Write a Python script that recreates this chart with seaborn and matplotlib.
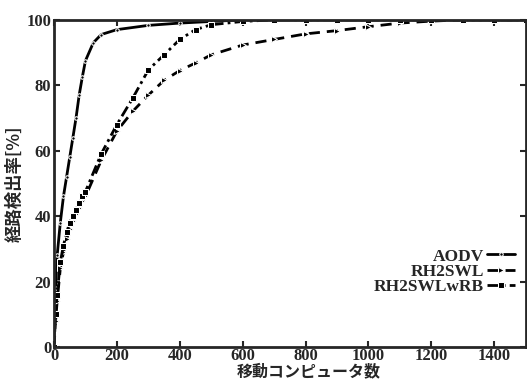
import matplotlib
matplotlib.use('Agg')
import matplotlib.pyplot as plt
import seaborn as sns
import pandas as pd

# データ
x_aodv = [0, 5, 10, 20, 30, 40, 50, 60, 70, 80, 90, 100, 125, 150, 200, 300, 400, 500,
          600, 700, 800, 900, 1000, 1100, 1200, 1300, 1400, 1500]
y_aodv = [0, 18, 28, 38, 46, 52, 58, 64, 70, 77, 82.5, 87.5, 93, 95.5, 97, 98.3, 99, 99.5,
          100, 100, 100, 100, 100, 100, 100, 100, 100, 100]

x_rh2 = [0, 5, 10, 20, 30, 40, 50, 60, 70, 80, 90, 100, 150, 200, 250, 300, 350, 400,
         450, 500, 600, 700, 800, 900, 1000, 1100, 1200, 1300, 1400, 1500]
y_rh2swl = [0, 8, 14, 24, 29, 33, 36, 38.5, 40.5, 42.5, 44.5, 46, 57, 66, 72, 77, 81.5,
            84.5, 86.8, 89.3, 92.3, 94, 95.7, 96.7, 97.9, 99, 99.6, 100, 100, 100]
y_rh2wrb = [0, 10, 16, 26, 31, 35, 38, 40, 42, 44, 46, 47.5, 59, 68, 76, 84.7, 89.3,
            94, 97, 98.5, 99.5, 100, 100, 100, 100, 100, 100, 100, 100, 100]

labels = ['AODV', 'RH2SWL', 'RH2SWLwRB']
x_ticks = [0, 200, 400, 600, 800, 1000, 1200, 1400]
y_ticks = [0, 20, 40, 60, 80, 100]

sns.set_style('ticks')
plt.rcParams['font.family'] = ['Liberation Serif', 'Noto Sans CJK JP']
plt.rcParams['font.weight'] = 'bold'

fig = plt.figure(figsize=(5.27, 3.84), dpi=100)
ax = fig.add_axes([0.1025, 0.0964, 0.895, 0.852])

df_a = pd.DataFrame({'x': x_aodv, 'y': y_aodv})
df_b = pd.DataFrame({'x': x_rh2, 'y': y_rh2swl})
df_c = pd.DataFrame({'x': x_rh2, 'y': y_rh2wrb})

sns.lineplot(data=df_a, x='x', y='y', ax=ax, color='black', lw=2.0,
             marker='.', markersize=5, label=labels[0])
sns.lineplot(data=df_b, x='x', y='y', ax=ax, color='black', lw=2.0,
             linestyle=(0, (4, 2.5)), marker='>', markersize=4, label=labels[1])
sns.lineplot(data=df_c, x='x', y='y', ax=ax, color='black', lw=2.0,
             linestyle=(0, (4, 1.5, 1, 1.5)), marker='s', markersize=4.5, label=labels[2])

ax.set_xlim(0, 1500)
ax.set_ylim(0, 100)
ax.set_xticks(x_ticks)
ax.set_yticks(y_ticks)
ax.tick_params(direction='in', length=4, width=1.5, labelsize=12, pad=2,
               top=True, right=True)
ax.tick_params(axis='x', pad=1)
for lab in ax.get_xticklabels() + ax.get_yticklabels():
    lab.set_fontweight('bold')
for s in ax.spines.values():
    s.set_linewidth(2.0)

ax.set_xlabel('移動コンピュータ数', family=['Noto Sans CJK JP'], fontsize=11.5,
              fontweight='bold')
ax.xaxis.set_label_coords(0.54, -0.05)
ax.set_ylabel('経路検出率[%]', family=['Noto Sans CJK JP'], fontsize=12.5,
              fontweight='bold', labelpad=2)

leg = ax.legend(loc='center right', bbox_to_anchor=(1.0, 0.23), frameon=False,
                markerfirst=False, handlelength=1.6, handletextpad=0.2,
                labelspacing=-0.05, borderaxespad=0.2,
                prop={'family': 'Liberation Serif', 'weight': 'bold', 'size': 12.5})

fig.savefig('out.png', dpi=100)
